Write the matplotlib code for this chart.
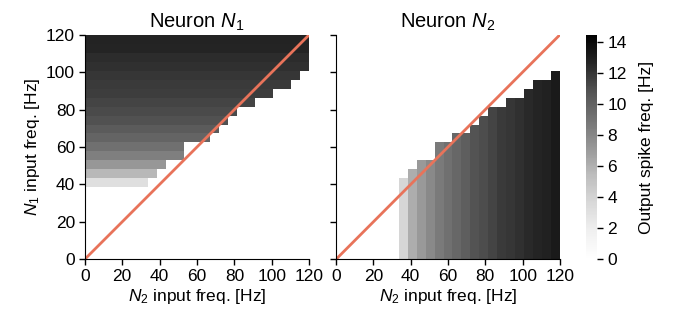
#!/usr/bin/env python3
"""
Two-neuron competition: output rate maps for N1 and N2
"""
import matplotlib
matplotlib.use('Agg')
import matplotlib.pyplot as plt
import numpy as np

plt.rcParams['font.family'] = ['Liberation Sans', 'DejaVu Sans']
plt.rcParams['mathtext.fontset'] = 'custom'
plt.rcParams['mathtext.rm'] = 'Liberation Sans'
plt.rcParams['mathtext.it'] = 'Liberation Sans:italic'
plt.rcParams['font.size'] = 12.5

# input frequency grid (25 x 25 cells, 0..120 Hz)
N_CELLS = 25
FREQ_MAX = 120

# Neuron N1: per N1-row output rate [Hz] and how many N2 columns fire (rows 0..24)
n1_row_rate = [np.nan] * 8 + [3.2, 5.7, 7.2, 8.4, 9.2, 9.9, 10.4, 10.9, 11.2,
                              11.4, 11.7, 11.8, 12.0, 12.2, 12.4, 12.7, 12.8]
n1_row_width = [0] * 8 + [7, 8, 9, 11, 11, 14, 15, 16, 17,
                          19, 21, 23, 24, 25, 25, 25, 25]

# Neuron N2: per N2-column output rate [Hz] and how many N1 rows fire (cols 0..24)
n2_col_rate = [np.nan] * 7 + [3.8, 6.2, 7.1, 7.9, 8.7, 9.2, 9.7, 10.2, 10.8,
                              11.1, 11.4, 11.8, 12.0, 12.2, 12.5, 12.7, 12.9, 13.2]
n2_col_height = [0] * 7 + [9, 10, 11, 11, 13, 13, 14, 14, 15,
                           16, 17, 17, 18, 18, 19, 20, 20, 21]

ticks = [0, 20, 40, 60, 80, 100, 120]
cbar_ticks = [0, 2, 4, 6, 8, 10, 12, 14]
VMAX = 14.5
LINE_COLOR = '#e8735a'


def build_maps():
    n1 = np.full((N_CELLS, N_CELLS), np.nan)
    for r in range(N_CELLS):
        n1[r, :n1_row_width[r]] = n1_row_rate[r]
    n2 = np.full((N_CELLS, N_CELLS), np.nan)
    for c in range(N_CELLS):
        n2[:n2_col_height[c], c] = n2_col_rate[c]
    return np.ma.masked_invalid(n1), np.ma.masked_invalid(n2)


def style_axis(ax, show_ylabels):
    for s in ['top', 'right']:
        ax.spines[s].set_visible(False)
    ax.set_xlim(0, FREQ_MAX)
    ax.set_ylim(0, FREQ_MAX)
    ax.set_xticks(ticks)
    ax.set_yticks(ticks)
    ax.tick_params(direction='out', length=4.5, width=1, pad=2.5)
    ax.set_xlabel('$N_2$ input freq. [Hz]', labelpad=2)
    if show_ylabels:
        ax.set_ylabel('$N_1$ input freq. [Hz]', labelpad=3)
    else:
        ax.set_yticklabels([])


def main():
    n1, n2 = build_maps()
    edges = np.linspace(0, FREQ_MAX, N_CELLS + 1)

    fig = plt.figure(figsize=(6.73, 3.2), dpi=100)
    ax1 = fig.add_axes([0.1259, 0.1897, 0.3337, 0.702])
    ax2 = fig.add_axes([0.4993, 0.1897, 0.3328, 0.702])
    cax = fig.add_axes([0.871, 0.1897, 0.0168, 0.702])

    for ax, data, title, ylab in [(ax1, n1, 'Neuron $N_1$', True),
                                  (ax2, n2, 'Neuron $N_2$', False)]:
        mesh = ax.pcolormesh(edges, edges, data, cmap='Greys', vmin=0, vmax=VMAX)
        # N1 = N2 diagonal
        ax.plot([0, FREQ_MAX], [0, FREQ_MAX], color=LINE_COLOR, linewidth=2)
        ax.set_title(title, fontsize=14.5, pad=5)
        style_axis(ax, ylab)

    cbar = fig.colorbar(mesh, cax=cax, ticks=cbar_ticks)
    cbar.outline.set_visible(False)
    cbar.ax.tick_params(length=4.5, width=1, pad=2.5)
    cbar.set_label('Output spike freq. [Hz]', labelpad=9)

    fig.savefig('out.png', dpi=100)
    plt.close(fig)


if __name__ == '__main__':
    main()
